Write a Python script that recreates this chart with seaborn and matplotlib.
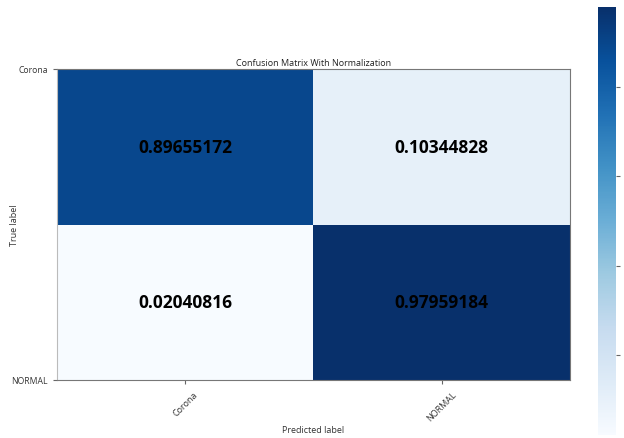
import numpy as np
import pandas as pd
import matplotlib
matplotlib.use('Agg')
import matplotlib.pyplot as plt
import seaborn as sns

# Normalized confusion matrix values
classes = ['Corona', 'NORMAL']
row_corona = [0.89655172, 0.10344828]
row_normal = [0.02040816, 0.97959184]

cm = pd.DataFrame([row_corona, row_normal], index=classes, columns=classes)

sns.set_style('white')
plt.rcParams['font.family'] = ['Open Sans', 'DejaVu Sans']

fig = plt.figure(figsize=(6.24, 4.39), dpi=100)
ax = fig.add_axes([0.0913, 0.1321, 0.822, 0.7084])
cax = fig.add_axes([0.958, 0.007, 0.029, 0.975])

sns.heatmap(cm, ax=ax, cbar_ax=cax, cmap='Blues', annot=True, fmt='.8f',
            annot_kws={'fontsize': 12.5, 'fontweight': 'bold', 'color': 'black'},
            linewidths=0)

# y ticks sit on the edges of the matrix in the original
ax.set_yticks([0, 2])
ax.set_yticklabels(classes, rotation=0, fontsize=6.2, color='#333333')
ax.set_xticks([0.5, 1.5])
ax.set_xticklabels(classes, rotation=45, fontsize=6.5, color='#333333')
ax.tick_params(axis='both', length=3, width=0.8, color='#666666', left=True, bottom=True)

for side in ['top', 'right', 'bottom', 'left']:
    ax.spines[side].set_visible(True)
    ax.spines[side].set_color('#777777')
    ax.spines[side].set_linewidth(0.8)
ax.spines['left'].set_color('#bbbbbb')

ax.set_title('Confusion Matrix With Normalization', fontsize=6.5, pad=3, color='#222222')
ax.set_ylabel('True label', fontsize=6.5, color='#333333')
ax.yaxis.set_label_coords(-0.075, 0.5)
ax.set_xlabel('Predicted label', fontsize=6.5, color='#333333', labelpad=2)

cbar = ax.collections[0].colorbar
cbar.set_ticks([0.2, 0.4, 0.6, 0.8])
cax.tick_params(labelsize=7, length=3, color='#666666')
cbar.outline.set_visible(True)
cbar.outline.set_edgecolor('#999999')

fig.savefig('out.png', dpi=100)
